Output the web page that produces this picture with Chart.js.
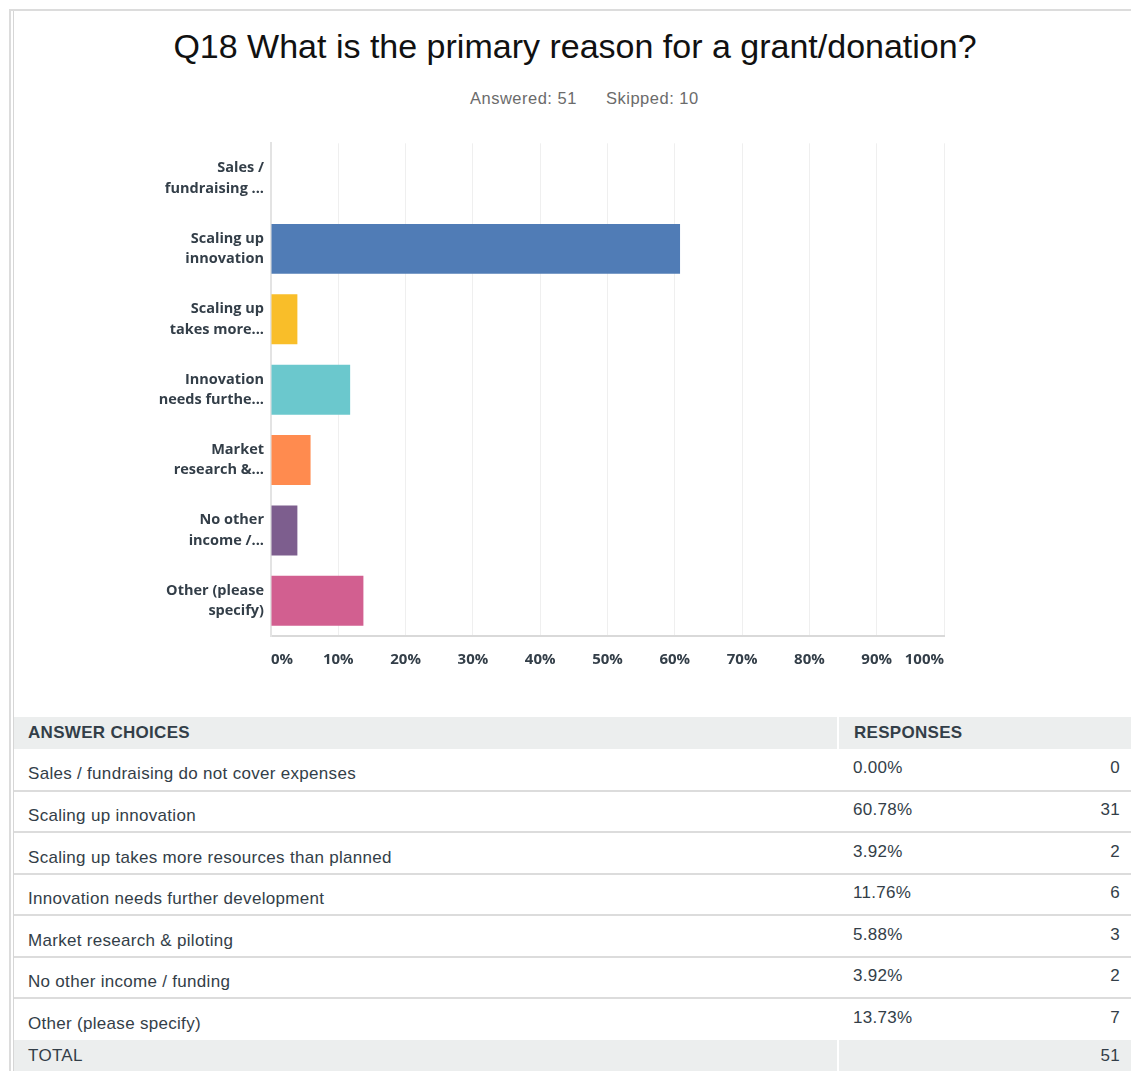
<!DOCTYPE html>
<html>
<head>
<meta charset="utf-8">
<script src="https://cdn.jsdelivr.net/npm/chart.js@4.4.1/dist/chart.umd.min.js"></script>
<style>
  body { margin: 0; background: #fff; width: 1131px; height: 1071px; overflow: hidden; position: relative;
         font-family: "Liberation Sans", Arial, sans-serif; }
  .frame { position: absolute; left: 9px; top: 9px; width: 1140px; height: 1080px;
           border-left: 2px solid #dcdcdc; border-top: 2px solid #dcdcdc; }
  .inner { position: absolute; left: 13px; top: 11px; height: 1080px; border-left: 1px solid #d6d6d6; }
  h1 { position: absolute; top: 27px; left: 14px; width: 1122px; margin: 0; text-align: center;
       font-weight: normal; font-size: 34px; color: #111; }
  .meta { position: absolute; top: 89px; font-size: 16.5px; letter-spacing: 0.5px; color: #6b6b6b; }
  #wrap { position: absolute; left: 0; top: 116px; }
  table { position: absolute; left: 14px; top: 717px; width: 1117px; border-collapse: collapse;
          table-layout: fixed; color: #333e48; font-size: 17px; letter-spacing: 0.3px; }
  th, td { padding: 0; }
  th { background: #eceeee; height: 32px; text-align: left; font-weight: bold; }
  th.first { padding-left: 14px; border-right: 2px solid #fff; }
  th.resp { padding-left: 15px; }
  tbody tr { height: 41.5px; }
  tbody td { border-bottom: 2px solid #dcdcdc; }
  tbody tr:last-child td { border-bottom: none; }
  td span { position: relative; }
  td.choice { padding-left: 14px; }
  td.choice span { top: 5px; }
  td.pct { padding-left: 15px; }
  td.pct span, td.cnt span { top: -1px; }
  td.cnt { text-align: right; padding-right: 11px; }
  tfoot tr { height: 31px; }
  tfoot td { background: #eceeee; }
  tfoot td.choice { border-right: 2px solid #fff; }
  tfoot td span { top: 1px !important; }
</style>
</head>
<body>
<div class="frame"></div>
<div class="inner"></div>
<h1>Q18 What is the primary reason for a grant/donation?</h1>
<div class="meta" style="left:470px">Answered: 51</div>
<div class="meta" style="left:606px">Skipped: 10</div>
<div id="wrap"><canvas id="chart" width="1131" height="560"></canvas></div>

<table id="answers">
  <colgroup><col style="width:824px"><col style="width:180px"><col></colgroup>
  <thead><tr><th class="first">ANSWER CHOICES</th><th class="resp" colspan="2">RESPONSES</th></tr></thead>
  <tbody></tbody>
  <tfoot><tr><td class="choice"><span>TOTAL</span></td><td></td><td class="cnt"><span id="total"></span></td></tr></tfoot>
</table>

<script>
// answer choices, full text for the table and wrapped/truncated for the axis
const choices = [
  "Sales / fundraising do not cover expenses",
  "Scaling up innovation",
  "Scaling up takes more resources than planned",
  "Innovation needs further development",
  "Market research & piloting",
  "No other income / funding",
  "Other (please specify)"
];
const axisLabels = [
  ["Sales /", "fundraising ..."],
  ["Scaling up", "innovation"],
  ["Scaling up", "takes more..."],
  ["Innovation", "needs furthe..."],
  ["Market", "research &..."],
  ["No other", "income /..."],
  ["Other (please", "specify)"]
];
const percents = [0, 60.78, 3.92, 11.76, 5.88, 3.92, 13.73];
const counts = [0, 31, 2, 6, 3, 2, 7];
const answered = 51;
const barColors = ["#507cb6", "#507cb6", "#f9be29", "#6bc8cd", "#ff8b4f", "#7d5e8e", "#d25f90"];

const labelColor = "#333e48";
const labelFamily = "'Open Sans', Lato, sans-serif";

new Chart(document.getElementById("chart"), {
  type: "bar",
  data: {
    labels: axisLabels,
    datasets: [{
      data: percents,
      backgroundColor: barColors,
      borderWidth: 0,
      barPercentage: 0.71,
      categoryPercentage: 1
    }]
  },
  options: {
    indexAxis: "y",
    responsive: false,
    animation: false,
    layout: { padding: { top: 12, right: 187, left: 0, bottom: 0 } },
    plugins: { legend: { display: false }, tooltip: { enabled: false } },
    scales: {
      x: {
        min: 0,
        max: 100,
        ticks: {
          stepSize: 10,
          align: "inner",
          padding: 15,
          color: labelColor,
          font: { family: labelFamily, size: 15, weight: "bold" },
          callback: (v) => v + "%"
        },
        grid: { color: "#efefef", drawTicks: false },
        border: { color: "#d9d9d9", width: 2 },
        afterFit: (s) => { s.height = 40; }
      },
      y: {
        ticks: { padding: 7, color: labelColor, font: { family: labelFamily, size: 14.5, weight: "bold", lineHeight: 1.4 } },
        grid: { display: false, drawTicks: false },
        border: { color: "#e3e3e3", width: 2 },
        afterFit: (s) => { s.width = 271; }
      }
    }
  }
});

// responses table
const tbody = document.querySelector("#answers tbody");
choices.forEach((c, i) => {
  const tr = document.createElement("tr");
  tr.innerHTML = `<td class="choice"><span></span></td><td class="pct"><span>${percents[i].toFixed(2)}%</span></td><td class="cnt"><span>${counts[i]}</span></td>`;
  tr.querySelector(".choice span").textContent = c;
  tbody.appendChild(tr);
});
document.getElementById("total").textContent = answered;
</script>
</body>
</html>
